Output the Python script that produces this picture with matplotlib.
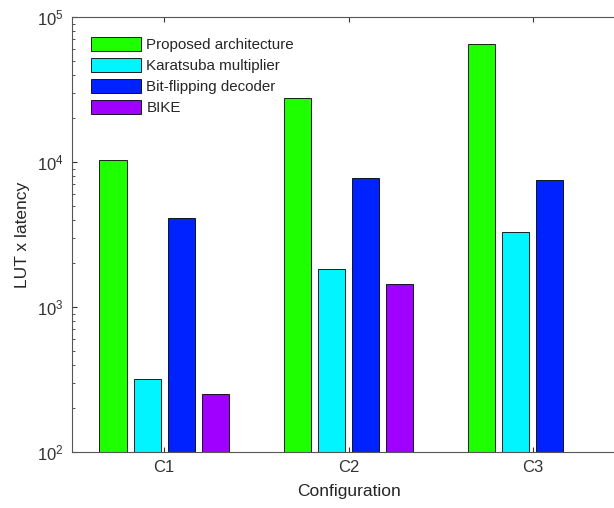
import numpy as np
import matplotlib
matplotlib.use('Agg')
import matplotlib.pyplot as plt

configs = ['C1', 'C2', 'C3']
proposed = [10300, 27500, 65000]
karatsuba = [320, 1820, 3290]
bitflip = [4090, 7720, 7520]
bike = [250, 1435, np.nan]

names = ['Proposed architecture', 'Karatsuba multiplier', 'Bit-flipping decoder', 'BIKE']
colors = ['#1eff00', '#00f5ff', '#0022ff', '#a000ff']

plt.rcParams['font.family'] = ['Liberation Sans', 'DejaVu Sans']
plt.rcParams['text.color'] = '#262626'

fig = plt.figure(figsize=(6.14, 5.08), dpi=100)
ax = fig.add_axes([72/614, 56/508, 553/614, 435/508])

x = np.arange(1, len(configs) + 1)
step = 0.185
width = 0.147
series = [proposed, karatsuba, bitflip, bike]
for i, (vals, name, c) in enumerate(zip(series, names, colors)):
    ax.bar(x + (i - 1.5) * step, vals, width, color=c,
           edgecolor='black', linewidth=0.6, label=name)

ax.set_yscale('log')
ax.set_ylim(1e2, 1e5)
ax.set_xlim(0.5, 3.5)
ax.set_xticks(x)
ax.set_xticklabels(configs)
ax.set_xlabel('Configuration', fontsize=12.5, labelpad=6, color='#262626')
ax.set_ylabel('LUT x latency', fontsize=12.5, labelpad=5, color='#262626')

for s in ax.spines.values():
    s.set_color('#555555')
    s.set_linewidth(0.8)
ax.tick_params(which='both', direction='in', top=True, right=True,
               colors='#333333', labelsize=12, pad=6)
ax.tick_params(axis='x', which='minor', top=False, bottom=False)

ax.legend(loc='upper left', bbox_to_anchor=(0.01, 0.985), frameon=False,
          fontsize=10.9, handlelength=3.3, handleheight=1.05,
          labelspacing=0.38, handletextpad=0.35)

fig.savefig('out.png', dpi=100)
